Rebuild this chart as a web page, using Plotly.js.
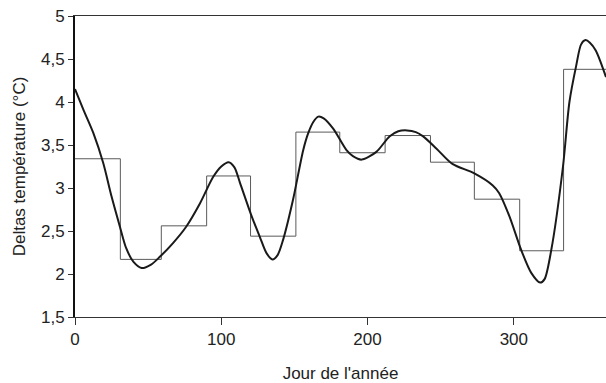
<!DOCTYPE html>
<html>
<head>
<meta charset="utf-8">
<script src="https://cdn.plot.ly/plotly-3.0.1.min.js"></script>
<style>html,body{margin:0;padding:0;background:#fff}#chart{width:606px;height:383px}</style>
</head>
<body>
<div id="chart"></div>
<script>
// Monthly step values (start day of each month, then year end)
var monthStartDays = [0, 31, 59, 90, 120, 151, 181, 212, 243, 273, 304, 334, 365];
var monthlyDeltas = [3.34, 2.17, 2.56, 3.14, 2.44, 3.65, 3.41, 3.61, 3.30, 2.87, 2.27, 4.38, 4.38];

// Smooth curve
var curveDays = [0, 6, 12.5, 19.3, 25, 30.7, 35, 40, 45.5, 52, 58, 67, 76, 85.4, 94.5, 100, 105, 109, 112.8, 120.8, 126.4, 131, 135, 138.5, 142.3, 149, 156, 159.5, 163, 166.3, 170, 176.5, 185.6, 190, 196, 206, 215, 221, 227, 233, 238, 247, 258, 273, 285.6, 290, 297, 305, 312, 318, 321, 325.6, 333.6, 338, 342.6, 346, 349, 352, 356, 363];
var curveDeltas = [4.15, 3.90, 3.64, 3.29, 2.90, 2.55, 2.30, 2.14, 2.07, 2.11, 2.20, 2.36, 2.55, 2.82, 3.13, 3.25, 3.30, 3.24, 3.06, 2.67, 2.43, 2.24, 2.17, 2.22, 2.40, 2.86, 3.44, 3.64, 3.77, 3.83, 3.81, 3.69, 3.44, 3.37, 3.33, 3.42, 3.60, 3.66, 3.67, 3.65, 3.60, 3.46, 3.28, 3.17, 3.03, 2.94, 2.67, 2.28, 2.01, 1.90, 1.94, 2.28, 3.25, 4.00, 4.42, 4.67, 4.72, 4.69, 4.60, 4.29];

var yTicks = [1.5, 2, 2.5, 3, 3.5, 4, 4.5, 5];
var xTicks = [0, 100, 200, 300];

var traces = [
  {x: monthStartDays, y: monthlyDeltas, type: 'scatter', mode: 'lines',
   line: {shape: 'hv', color: '#5a5a5a', width: 1}, hoverinfo: 'skip'},
  {x: curveDays, y: curveDeltas, type: 'scatter', mode: 'lines',
   line: {shape: 'spline', smoothing: 0.8, color: '#1a1a1a', width: 2}, hoverinfo: 'skip'}
];

var layout = {
  width: 606, height: 383,
  margin: {l: 75, r: 0, t: 16, b: 66},
  paper_bgcolor: '#ffffff', plot_bgcolor: '#ffffff',
  showlegend: false,
  separators: ', ',
  font: {family: 'Liberation Sans, Arial, sans-serif', size: 17, color: '#222'},
  xaxis: {
    range: [0, 363], tickvals: xTicks, ticktext: xTicks.map(String),
    showgrid: false, zeroline: false,
    showline: true, linecolor: '#333', linewidth: 1, mirror: true,
    ticks: 'outside', ticklen: 7, tickcolor: '#333',
    tickfont: {size: 17, color: '#222'},
    title: {text: "Jour de l'année", font: {size: 17, color: '#222'}, standoff: 20}
  },
  yaxis: {
    range: [1.5, 5], tickvals: yTicks,
    showgrid: false, zeroline: false,
    showline: true, linecolor: '#111', linewidth: 2,
    ticks: 'outside', ticklen: 5, tickcolor: '#333',
    tickfont: {size: 17, color: '#222'},
    title: {text: 'Deltas température (°C)', font: {size: 17, color: '#222'}, standoff: 11}
  }
};

Plotly.newPlot('chart', traces, layout, {displayModeBar: false, staticPlot: true});
</script>
</body>
</html>
